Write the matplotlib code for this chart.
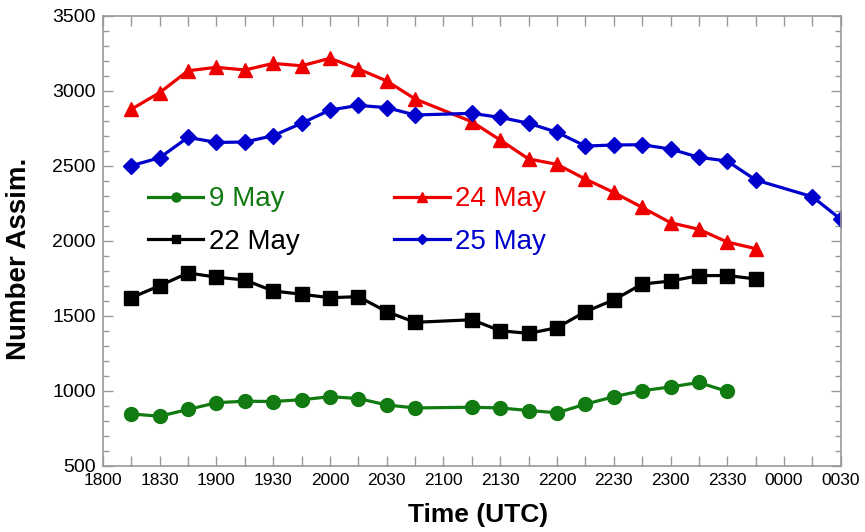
import numpy as np
import matplotlib
matplotlib.use("Agg")
import matplotlib.pyplot as plt
from matplotlib.ticker import MultipleLocator

plt.rcParams['font.family'] = ['Liberation Sans', 'DejaVu Sans']

# times (UTC, HHMM) - no data at 2100
t_main = ['1815', '1830', '1845', '1900', '1915', '1930', '1945', '2000', '2015', '2030', '2045',
          '2115', '2130', '2145', '2200', '2215', '2230', '2245', '2300', '2315', '2330', '2345']
t_may25 = t_main + ['0015', '0030']

may9 = [845, 830, 875, 920, 930, 928, 940, 960, 948, 905, 885,
        890, 885, 868, 853, 910, 960, 1000, 1025, 1055, 995]
may22 = [1620, 1700, 1785, 1757, 1738, 1665, 1643, 1620, 1627, 1527, 1456,
         1473, 1400, 1382, 1420, 1527, 1605, 1711, 1731, 1767, 1768, 1745]
may24 = [2876, 2987, 3133, 3156, 3138, 3182, 3166, 3216, 3145, 3065, 2945,
         2793, 2671, 2545, 2509, 2411, 2322, 2222, 2120, 2076, 1991, 1947]
may25 = [2500, 2553, 2689, 2655, 2658, 2700, 2783, 2871, 2902, 2887, 2838,
         2849, 2822, 2783, 2723, 2631, 2638, 2640, 2611, 2556, 2531, 2405,
         2293, 2143]

tick_labels = ['1800', '1830', '1900', '1930', '2000', '2030', '2100', '2130',
               '2200', '2230', '2300', '2330', '0000', '0030']


def to_hours(hhmm):
    h = int(hhmm[:2]) + int(hhmm[2:]) / 60
    if h < 12:
        h += 24
    return h


fig = plt.figure(figsize=(8.65, 5.32), dpi=100)
ax = fig.add_axes([0.119, 0.1246, 0.853, 0.8459])

# order so the 2-column legend reads 9/24 on top, 22/25 below
series = [
    ('9 May', t_main[:len(may9)], may9, '#117a11', 'o', 10),
    ('22 May', t_main, may22, 'black', 's', 9.5),
    ('24 May', t_main, may24, '#ee0000', '^', 10),
    ('25 May', t_may25, may25, '#0000cc', 'D', 8),
]
for label, tt, vals, col, mk, ms in series:
    x = [to_hours(s) for s in tt]
    ax.plot(x, vals, color=col, marker=mk, markersize=ms, lw=2.3, label=label)

ax.set_xlim(18, 24.5)
ax.set_ylim(500, 3500)
ax.set_xticks([to_hours(s) for s in tick_labels])
ax.set_xticklabels(tick_labels)
ax.xaxis.set_minor_locator(MultipleLocator(0.25))
ax.yaxis.set_major_locator(MultipleLocator(500))
ax.yaxis.set_minor_locator(MultipleLocator(100))

for sp in ax.spines.values():
    sp.set_color('#999999')
    sp.set_linewidth(1.2)
ax.tick_params(which='both', direction='in', top=True, right=True, colors='#999999',
               labelcolor='black')
ax.tick_params(axis='x', which='both', length=7, width=1, labelsize=12.5, pad=5)
ax.tick_params(axis='y', which='major', length=7, width=1, labelsize=14, pad=5)
ax.tick_params(axis='y', which='minor', length=4, width=1)

ax.set_xlabel('Time (UTC)', fontsize=19, fontweight='bold')
ax.xaxis.set_label_coords(0.508, -0.083)
ax.set_ylabel('Number Assim.', fontsize=20, fontweight='bold')
ax.yaxis.set_label_coords(-0.096, 0.459)

leg = ax.legend(ncol=2, loc='upper left', bbox_to_anchor=(0.061, 0.621), frameon=False,
                fontsize=20, handlelength=2.0, handletextpad=0.2, columnspacing=3.4,
                labelspacing=0.6, markerscale=0.65, borderpad=0, borderaxespad=0)
for txt, line in zip(leg.get_texts(), leg.get_lines()):
    txt.set_color(line.get_color())

fig.savefig('out.png', dpi=100)
